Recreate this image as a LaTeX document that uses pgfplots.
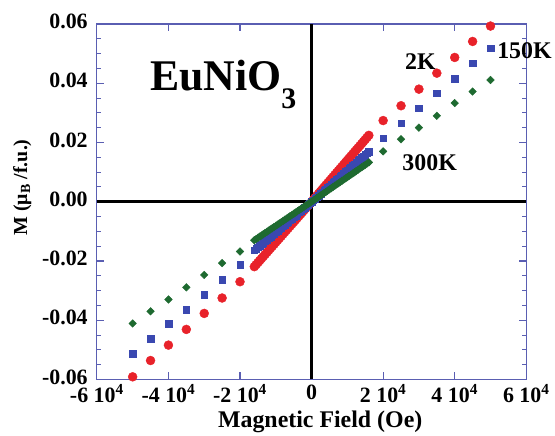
\documentclass[border=0pt]{standalone}
\usepackage{fontspec}
\setmainfont{Liberation Serif}
\usepackage{pgfplots}
\pgfplotsset{compat=1.18}

\definecolor{frameblue}{HTML}{5A5EB2}
\definecolor{mred}{HTML}{E8222A}
\definecolor{mblue}{HTML}{3A48B0}
\definecolor{mgreen}{HTML}{1E6A30}

% M(H) loops of EuNiO3
\pgfplotstableread{
H M
-50000 -0.0591
-45000 -0.0536
-40000 -0.0484
-35000 -0.0431
-30000 -0.0377
-25000 -0.0325
-20000 -0.0270
-16000 -0.02192
-15500 -0.02124
-15000 -0.02055
-14500 -0.01987
-14000 -0.01918
-13500 -0.01850
-13000 -0.01781
-12500 -0.01713
-12000 -0.01644
-11500 -0.01576
-11000 -0.01507
-10500 -0.01439
-10000 -0.01370
-9500 -0.01302
-9000 -0.01233
-8500 -0.01165
-8000 -0.01096
-7500 -0.01028
-7000 -0.00959
-6500 -0.00891
-6000 -0.00822
-5500 -0.00754
-5000 -0.00685
-4500 -0.00617
-4000 -0.00548
-3500 -0.00480
-3000 -0.00411
-2500 -0.00343
-2000 -0.00274
-1500 -0.00206
-1000 -0.00137
-500 -0.00069
0 0.0000
500 0.0007
1000 0.0014
1500 0.0021
2000 0.0028
2500 0.0035
3000 0.0042
3500 0.0049
4000 0.0056
4500 0.0063
5000 0.0070
5500 0.0077
6000 0.0084
6500 0.0091
7000 0.0098
7500 0.0105
8000 0.0112
8500 0.0119
9000 0.0126
9500 0.0133
10000 0.0140
10500 0.0147
11000 0.0154
11500 0.0161
12000 0.0168
12500 0.0175
13000 0.0182
13500 0.0189
14000 0.0196
14500 0.0203
15000 0.0210
15500 0.0217
16000 0.0224
20000 0.0274
25000 0.0324
30000 0.0380
35000 0.0434
40000 0.0487
45000 0.0541
50000 0.0593
}\twoK

\pgfplotstableread{
H M
-50000 -0.0512
-45000 -0.0463
-40000 -0.0411
-35000 -0.0364
-30000 -0.0313
-25000 -0.0263
-20000 -0.0213
-16000 -0.01642
-15500 -0.01590
-15000 -0.01539
-14500 -0.01488
-14000 -0.01436
-13500 -0.01385
-13000 -0.01334
-12500 -0.01283
-12000 -0.01231
-11500 -0.01180
-11000 -0.01129
-10500 -0.01077
-10000 -0.01026
-9500 -0.00975
-9000 -0.00923
-8500 -0.00872
-8000 -0.00821
-7500 -0.00770
-7000 -0.00718
-6500 -0.00667
-6000 -0.00616
-5500 -0.00564
-5000 -0.00513
-4500 -0.00462
-4000 -0.00410
-3500 -0.00359
-3000 -0.00308
-2500 -0.00256
-2000 -0.00205
-1500 -0.00154
-1000 -0.00103
-500 -0.00051
0 0.0000
500 0.00053
1000 0.00106
1500 0.00159
2000 0.00212
2500 0.00265
3000 0.00318
3500 0.00371
4000 0.00424
4500 0.00477
5000 0.00530
5500 0.00583
6000 0.00636
6500 0.00689
7000 0.00742
7500 0.00795
8000 0.00848
8500 0.00901
9000 0.00954
9500 0.01007
10000 0.01060
10500 0.01113
11000 0.01166
11500 0.01219
12000 0.01272
12500 0.01325
13000 0.01378
13500 0.01431
14000 0.01484
14500 0.01537
15000 0.01590
15500 0.01643
16000 0.01696
20000 0.0215
25000 0.0265
30000 0.0316
35000 0.0366
40000 0.0415
45000 0.0467
50000 0.0518
}\oneFiftyK

\pgfplotstableread{
H M
-50000 -0.0411
-45000 -0.0370
-40000 -0.0330
-35000 -0.0289
-30000 -0.0247
-25000 -0.0207
-20000 -0.0168
-16000 -0.01300
-15500 -0.01259
-15000 -0.01219
-14500 -0.01178
-14000 -0.01138
-13500 -0.01097
-13000 -0.01056
-12500 -0.01016
-12000 -0.00975
-11500 -0.00934
-11000 -0.00894
-10500 -0.00853
-10000 -0.00813
-9500 -0.00772
-9000 -0.00731
-8500 -0.00691
-8000 -0.00650
-7500 -0.00609
-7000 -0.00569
-6500 -0.00528
-6000 -0.00488
-5500 -0.00447
-5000 -0.00406
-4500 -0.00366
-4000 -0.00325
-3500 -0.00284
-3000 -0.00244
-2500 -0.00203
-2000 -0.00163
-1500 -0.00122
-1000 -0.00081
-500 -0.00041
0 0.0000
500 0.00042
1000 0.00083
1500 0.00125
2000 0.00166
2500 0.00208
3000 0.00249
3500 0.00291
4000 0.00332
4500 0.00374
5000 0.00415
5500 0.00457
6000 0.00498
6500 0.00540
7000 0.00581
7500 0.00623
8000 0.00664
8500 0.00706
9000 0.00747
9500 0.00789
10000 0.00830
10500 0.00872
11000 0.00913
11500 0.00955
12000 0.00996
12500 0.01038
13000 0.01079
13500 0.01121
14000 0.01162
14500 0.01204
15000 0.01245
15500 0.01287
16000 0.01328
20000 0.0170
25000 0.0211
30000 0.0250
35000 0.0290
40000 0.0333
45000 0.0372
50000 0.0411
}\threeHundredK

\begin{document}
\begin{tikzpicture}
\begin{axis}[
  width=430bp, height=356bp, scale only axis,
  xmin=-60000, xmax=60000, ymin=-0.06, ymax=0.06,
  xtick={-60000,-40000,-20000,0,20000,40000,60000},
  xticklabels={-6 10\textsuperscript{4},-4 10\textsuperscript{4},-2 10\textsuperscript{4},0,2 10\textsuperscript{4},4 10\textsuperscript{4},6 10\textsuperscript{4}},
  ytick={-0.06,-0.04,-0.02,0,0.02,0.04,0.06},
  yticklabels={-0.06,-0.04,-0.02,0.00,0.02,0.04,0.06},
  minor y tick num=3,
  scaled ticks=false,
  tick align=inside,
  major tick length=7bp, minor tick length=4bp,
  axis line style={frameblue, line width=1.2pt},
  every tick/.style={frameblue, line width=1.2pt},
  every minor tick/.style={frameblue, line width=1pt},
  ticklabel style={font=\fontsize{22}{24}\selectfont\bfseries},
  xticklabel style={yshift=-4bp, inner sep=1bp},
  yticklabel style={inner sep=1bp, xshift=-8bp, yshift=2.5bp},
  xlabel={Magnetic Field (Oe)},
  ylabel={M (μ\textsubscript{B} /f.u.)},
  every axis x label/.style={at={(axis description cs:0.52,-0.118)}, anchor=center, font=\fontsize{24}{26}\selectfont\bfseries},
  every axis y label/.style={at={(axis description cs:-0.174,0.54)}, anchor=center, rotate=90, font=\fontsize{20}{22}\selectfont\bfseries},
  clip=false,
]
\addplot[black, line width=2.6pt] coordinates {(0,-0.06) (0,0.06)};
\addplot[black, line width=2.6pt] coordinates {(-60000,0) (60000,0)};

\addplot[only marks, mark=*, mark size=4.5bp, color=mred, mark options={draw=mred, fill=mred}] table[x=H, y=M] {\twoK};
\addplot[only marks, mark=square*, mark size=3.3bp, color=mblue, mark options={draw=mblue, fill=mblue}] table[x=H, y=M] {\oneFiftyK};
\addplot[only marks, mark=square*, mark size=2.7bp, color=mgreen, mark options={draw=mgreen, fill=mgreen, rotate=45}] table[x=H, y=M] {\threeHundredK};

\node[font=\fontsize{44}{46}\selectfont\bfseries, anchor=base west] at (axis cs:-46100,0.0377) {EuNiO\raisebox{-0.42em}{\fontsize{30}{30}\selectfont 3}};
\node[font=\fontsize{24}{26}\selectfont\bfseries] at (axis cs:30400,0.0472) {2K};
\node[font=\fontsize{24}{26}\selectfont\bfseries] at (axis cs:59500,0.0509) {150K};
\node[font=\fontsize{24}{26}\selectfont\bfseries] at (axis cs:33000,0.0131) {300K};
\end{axis}
\path[use as bounding box] (-97bp,-52bp) rectangle (458bp,380bp);
\end{tikzpicture}
\end{document}
